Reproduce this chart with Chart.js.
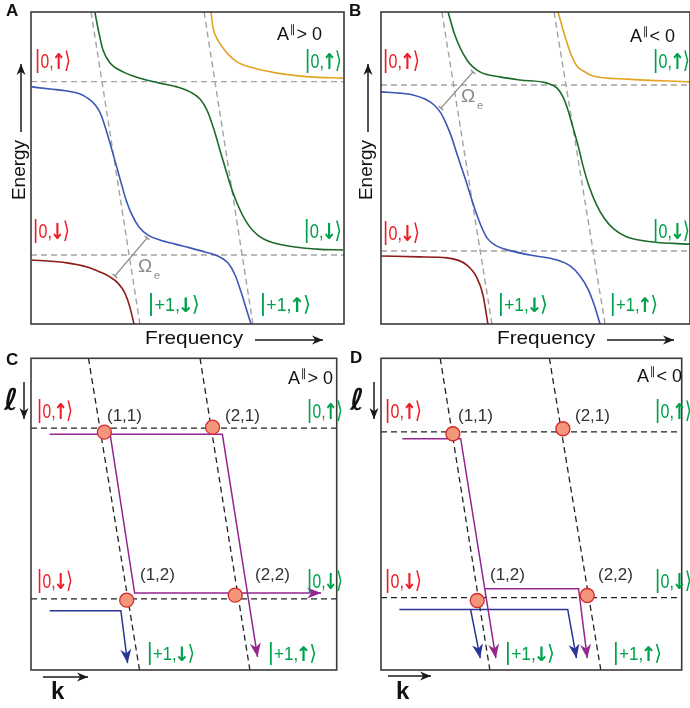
<!DOCTYPE html>
<html>
<head>
<meta charset="utf-8">
<script src="https://cdn.jsdelivr.net/npm/chart.js@4.4.0/dist/chart.umd.min.js"></script>
<style>
    html, body { margin: 0; padding: 0; background: #fff; overflow: hidden; width: 690px; height: 708px; }
    canvas { position: absolute; }
</style>
</head>
<body>
<canvas id="chartA" width="345" height="350" style="left:0;top:0"></canvas>
<canvas id="chartB" width="345" height="350" style="left:345px;top:0"></canvas>
<canvas id="chartC" width="345" height="358" style="left:0;top:350px"></canvas>
<canvas id="chartD" width="345" height="358" style="left:345px;top:350px"></canvas>
<script>
// all values in arbitrary units, 0..100 on both axes of every panel

// panel A : A|| > 0, energy vs frequency
const levelsA = [77.7, 22.1];                 // |0,up>, |0,down>
const photonA = [[19.2, 34.8], [55.3, 70.9]]; // x at top / bottom of |+1,down> and |+1,up>
const redA = [[0.3, 20.5], [11.5, 19.6], [17.9, 18.3], [22.0, 16.7], [25.2, 15.1], [27.8, 13.1], [30.0, 9.9], [31.6, 5.4], [32.9, 0]];
const blueA = [[0.3, 76.0], [6.1, 75.3], [11.5, 74.7], [15.7, 73.7], [18.5, 72.1], [20.8, 69.9], [22.4, 67.0], [24.0, 62.2],
    [25.6, 56.7], [27.2, 51.0], [28.8, 45.2], [30.4, 39.7], [32.3, 34.9], [34.5, 31.1], [37.4, 28.5], [41.2, 26.9],
    [46.0, 25.6], [50.8, 24.4], [55.6, 23.1], [59.7, 21.8], [62.9, 19.6], [65.2, 15.7], [67.1, 10.3], [68.7, 5.1], [70.3, 0]];
const greenA = [[20.4, 100], [21.7, 93.3], [23.0, 87.8], [25.2, 83.7], [29.4, 80.8], [34.8, 78.8], [41.2, 77.2], [46.6, 76.0],
    [50.8, 74.4], [54.0, 72.1], [56.2, 68.6], [58.5, 62.2], [60.4, 55.6], [62.3, 49.2], [63.9, 43.9], [65.8, 38.8],
    [69.0, 32.4], [73.2, 27.9], [80.5, 25.3], [91.4, 24.0], [99.7, 23.7]];
const orangeA = [[57.5, 100], [58.1, 95.2], [59.7, 91.0], [62.6, 86.9], [65.8, 84.0], [70.9, 82.1], [78.6, 80.4], [89.1, 79.2], [99.7, 78.8]];
const omegaA = [[26.8, 15.4], [37.1, 27.6]];

// panel B : A|| < 0
const levelsB = [76.6, 23.4];
const photonB = [[19.7, 35.9], [56.0, 72.5]];
const redB = [[0, 21.8], [12.6, 21.5], [21.4, 21.2], [27.8, 18.9], [31.1, 14.7], [33.0, 9.3], [34.6, 0]];
const blueB = [[0, 74.4], [6.1, 74.0], [10.4, 73.4], [14.2, 72.1], [17.2, 70.2], [19.4, 67.6], [21.0, 64.4], [22.7, 60.3],
    [24.3, 55.4], [25.9, 50.6], [27.5, 45.8], [29.1, 40.7], [30.7, 35.9], [32.4, 31.4], [34.3, 27.6], [36.9, 25.3],
    [40.1, 24.0], [48.2, 22.1], [57.0, 20.5], [61.2, 18.6], [64.4, 15.4], [67.0, 11.2], [68.9, 6.4], [70.9, 0]];
const greenB = [[21.7, 100], [23.9, 92.6], [27.8, 84.6], [32.0, 80.8], [38.5, 79.2], [45.0, 78.2], [53.7, 77.2], [57.0, 75.6],
    [58.9, 72.8], [60.5, 68.6], [62.1, 63.1], [63.8, 57.1], [65.4, 50.6], [67.3, 44.2], [69.6, 38.5], [72.2, 34.0],
    [75.4, 30.4], [79.6, 27.9], [88.0, 26.3], [100, 25.6]];
const orangeB = [[57.3, 100], [59.2, 93.3], [61.2, 87.2], [63.4, 82.7], [66.0, 80.8], [68.6, 79.5], [79.6, 78.5], [100, 77.6]];
const omegaB = [[19.4, 69.2], [29.8, 80.8]];

// panel C : A|| > 0, transition paths
const levelsC = [77.6, 22.8];
const photonC = [[18.8, 35.5], [55.3, 71.6]];
const nodesC = [[24.0, 76.3], [59.4, 77.9], [31.3, 22.4], [66.8, 24.0]];
const purpleC = [[[6.1, 75.6], [62.6, 75.6], [74.1, 4.2]], [[25.9, 75.6], [33.9, 24.7], [94.9, 24.7]]];
const navyC = [[[6.1, 19.0], [29.4, 19.0], [31.6, 2.2]]];

// panel D : A|| < 0, transition paths
const levelsD = [76.4, 23.2];
const photonD = [[19.7, 36.2], [56.0, 73.1]];
const nodesD = [[23.9, 75.8], [60.5, 77.4], [32.0, 22.3], [68.6, 23.9]];
const purpleD = [[[7.1, 74.2], [26.5, 74.2], [38.2, 3.8]], [[34.6, 26.1], [65.7, 26.1], [68.6, 3.8]]];
const navyD = [[[6.1, 19.4], [62.1, 19.4], [65.0, 3.8]], [[29.8, 19.4], [33.0, 3.8]]];

const nodeNames = ['(1,1)', '(2,1)', '(1,2)', '(2,2)'];

const RED = '#8e1b17', BLUE = '#3a58b3', GREEN = '#1b6a2c', ORANGE = '#e3a325';
const PURPLE = '#93278f', NAVY = '#283593';
const GRAY = '#a3a3a3', FRAME = '#3a3a3a';
const KRED = '#ed1c24', KGREEN = '#00a14b';
const SANS = "'Liberation Sans', 'DejaVu Sans', sans-serif";
const DJV = "'DejaVu Sans', sans-serif";

const pts = a => a.map(p => ({ x: p[0], y: p[1] }));

function level(y, color, w) {
    return { data: pts([[0, y], [100, y]]), borderColor: color, borderWidth: w, borderDash: [6, 4], pointRadius: 0, order: 3 };
}
function photon(xs, color, w) {
    return { data: pts([[xs[0], 100], [xs[1], 0]]), borderColor: color, borderWidth: w, borderDash: [6, 4], pointRadius: 0, order: 3 };
}
function curve(a, color) {
    return { data: pts(a), borderColor: color, borderWidth: 1.6, pointRadius: 0, cubicInterpolationMode: 'monotone', order: 1 };
}
function path(a, color) {
    return { data: pts(a), borderColor: color, borderWidth: 1.5, pointRadius: 0, tension: 0, arrowHead: true, order: 1 };
}

// filled arrow head with a small notch, tip at (x2,y2)
function head(ctx, x1, y1, x2, y2, color, len, half) {
    const ang = Math.atan2(y2 - y1, x2 - x1);
    ctx.save();
    ctx.translate(x2, y2);
    ctx.rotate(ang);
    ctx.fillStyle = color;
    ctx.beginPath();
    ctx.moveTo(0, 0);
    ctx.lineTo(-len, -half);
    ctx.lineTo(-len * 0.7, 0);
    ctx.lineTo(-len, half);
    ctx.closePath();
    ctx.fill();
    ctx.restore();
}

function arrow(ctx, a, color) {
    ctx.save();
    ctx.strokeStyle = color;
    ctx.lineWidth = 1.5;
    ctx.beginPath();
    ctx.moveTo(a[0], a[1]);
    ctx.lineTo(a[2], a[3]);
    ctx.stroke();
    ctx.restore();
    head(ctx, a[0], a[1], a[2], a[3], color, 11, 4.5);
}

function drawText(ctx, it, ox, oy) {
    ctx.save();
    ctx.fillStyle = it.color || '#1a1a1a';
    ctx.textBaseline = 'alphabetic';
    if (it.parts) {
        // run of differently styled pieces, optionally squeezed to width w
        let total = 0;
        it.parts.forEach(p => { ctx.font = p.font; total += ctx.measureText(p.t).width + (p.gap || 0); });
        ctx.translate(it.x - ox, it.y - oy);
        if (it.w) ctx.scale(it.w / total, 1);
        let x = 0;
        it.parts.forEach(p => {
            ctx.font = p.font;
            ctx.fillText(p.t, x, p.dy || 0);
            x += ctx.measureText(p.t).width + (p.gap || 0);
        });
        ctx.restore();
        return;
    }
    ctx.font = it.font;
    ctx.translate(it.x - ox, it.y - oy);
    if (it.rot) ctx.rotate(it.rot);
    if (it.align) ctx.textAlign = it.align;
    if (it.w) ctx.scale(it.w / ctx.measureText(it.t).width, 1);
    ctx.fillText(it.t, 0, 0);
    ctx.restore();
}

function decor(p) {
    return {
        id: 'decor' + p.name,
        afterDatasetsDraw(chart) {
            const ctx = chart.ctx;
            chart.data.datasets.forEach((ds, i) => {
                const el = chart.getDatasetMeta(i).data;
                if (ds.arrowHead) {
                    const q = el[el.length - 1], r = el[el.length - 2];
                    head(ctx, r.x, r.y, q.x, q.y, ds.borderColor, 14, 5.5);
                }
                if (ds.caps) {
                    const a = el[0], b = el[1];
                    const ang = Math.atan2(b.y - a.y, b.x - a.x) + Math.PI / 2;
                    const dx = Math.cos(ang) * 3, dy = Math.sin(ang) * 3;
                    ctx.save();
                    ctx.strokeStyle = ds.borderColor;
                    ctx.lineWidth = 1.3;
                    [a, b].forEach(e => {
                        ctx.beginPath();
                        ctx.moveTo(e.x - dx, e.y - dy);
                        ctx.lineTo(e.x + dx, e.y + dy);
                        ctx.stroke();
                    });
                    ctx.restore();
                }
            });
        },
        afterDraw(chart) {
            const ctx = chart.ctx, a = chart.chartArea;
            ctx.save();
            ctx.strokeStyle = FRAME;
            ctx.lineWidth = 1.6;
            ctx.strokeRect(a.left, a.top, a.right - a.left, a.bottom - a.top);
            ctx.restore();
            p.arrows.forEach(ar => arrow(ctx, [ar[0] - p.ox, ar[1] - p.oy, ar[2] - p.ox, ar[3] - p.oy], '#1a1a1a'));
            p.texts.forEach(t => drawText(ctx, t, p.ox, p.oy));
        }
    };
}

function makeChart(id, datasets, pad, p) {
    return new Chart(document.getElementById(id), {
        type: 'line',
        data: { datasets },
        options: {
            responsive: false,
            animation: false,
            events: [],
            layout: { padding: pad },
            plugins: { legend: { display: false }, tooltip: { enabled: false } },
            scales: {
                x: { type: 'linear', min: 0, max: 100, display: false },
                y: { type: 'linear', min: 0, max: 100, display: false }
            }
        },
        plugins: [decor(p)]
    });
}

// ket |n,s> built from pieces so the spin arrow can be a bit heavier
function ket(n, s, x, y, color, big, w) {
    const f = big ? 20 : 18;
    return { x, y, color, w, parts: [
        { t: '|', font: (f + 5) + 'px ' + SANS, gap: 0.5 },
        { t: n + ',', font: f + 'px ' + SANS, gap: -2.5 },
        { t: s, font: 'bold ' + (f + 2) + 'px ' + DJV, dy: 0.5, gap: -2.5 },
        { t: '\u27E9', font: (f + 3) + 'px ' + DJV }
    ] };
}
const UP = '\u2191', DOWN = '\u2193';
function sign(x, y, s) {
    return { x, y, color: '#111', parts: [
        { t: 'A', font: '18px ' + SANS, gap: 1 },
        { t: '\u2225', font: '11px ' + SANS, dy: -7, gap: 1 },
        { t: s + ' 0', font: '18px ' + SANS }
    ] };
}
function omegaLabel(x, y) {
    return [{ t: '\u03A9', x, y, color: '#8a8a8a', font: '19px ' + SANS },
            { t: 'e', x: x + 16, y: y + 7, color: '#8a8a8a', font: '11px ' + SANS }];
}

// ---- A
makeChart('chartA', [
    level(levelsA[0], GRAY, 1.4), level(levelsA[1], GRAY, 1.4),
    photon(photonA[0], GRAY, 1.4), photon(photonA[1], GRAY, 1.4),
    curve(redA, RED), curve(blueA, BLUE), curve(greenA, GREEN), curve(orangeA, ORANGE),
    { data: pts(omegaA), borderColor: '#8a8a8a', borderWidth: 1.3, pointRadius: 0, caps: true, order: 1 }
], { left: 31, top: 12, right: 1, bottom: 26 }, {
    name: 'A', ox: 0, oy: 0,
    arrows: [[21, 132, 21, 64], [255, 340, 323, 340]],
    texts: [
        { t: 'A', x: 6, y: 16, font: 'bold 17px ' + SANS, color: '#111' },
        sign(277, 40, '>'),
        ket('0', UP, 35, 68, KRED, true, 36), ket('0', UP, 305, 68, KGREEN, true, 37),
        ket('0', DOWN, 33, 238, KRED, true, 37), ket('0', DOWN, 304, 238, KGREEN, true, 38),
        ket('+1', DOWN, 148, 311, KGREEN, false, 52), ket('+1', UP, 260, 311, KGREEN, false, 51),
        ...omegaLabel(138, 272),
        { t: 'Energy', x: 25, y: 170, rot: -Math.PI / 2, align: 'center', font: '19px ' + SANS, color: '#111' },
        { t: 'Frequency', x: 145, y: 344, font: '19px ' + SANS, color: '#111', w: 98 }
    ]
});

// ---- B
makeChart('chartB', [
    level(levelsB[0], GRAY, 1.4), level(levelsB[1], GRAY, 1.4),
    photon(photonB[0], GRAY, 1.4), photon(photonB[1], GRAY, 1.4),
    curve(redB, RED), curve(blueB, BLUE), curve(greenB, GREEN), curve(orangeB, ORANGE),
    { data: pts(omegaB), borderColor: '#8a8a8a', borderWidth: 1.3, pointRadius: 0, caps: true, order: 1 }
], { left: 36, top: 12, right: 0, bottom: 26 }, {
    name: 'B', ox: 345, oy: 0,
    arrows: [[368, 132, 368, 64], [607, 340, 674, 340]],
    texts: [
        { t: 'B', x: 349, y: 16, font: 'bold 17px ' + SANS, color: '#111' },
        sign(630, 42, '<'),
        ket('0', UP, 383, 68, KRED, true, 37), ket('0', UP, 653, 68, KGREEN, true, 37),
        ket('0', DOWN, 383, 240, KRED, true, 37), ket('0', DOWN, 653, 238, KGREEN, true, 37),
        ket('+1', DOWN, 498, 311, KGREEN, false, 50), ket('+1', UP, 610, 311, KGREEN, false, 48),
        ...omegaLabel(461, 102),
        { t: 'Energy', x: 372, y: 170, rot: -Math.PI / 2, align: 'center', font: '19px ' + SANS, color: '#111' },
        { t: 'Frequency', x: 497, y: 344, font: '19px ' + SANS, color: '#111', w: 98 }
    ]
});

function nodeSet(a) {
    return { data: pts(a), showLine: false, pointRadius: 7, pointBackgroundColor: '#f4967a',
        pointBorderColor: '#d42a2c', pointBorderWidth: 1.3, order: 0 };
}
const nodeFont = '17px ' + SANS;
const ELL = 'italic bold 30px ' + DJV;

// ---- C
makeChart('chartC', [
    level(levelsC[0], '#222', 1.3), level(levelsC[1], '#222', 1.3),
    photon(photonC[0], '#222', 1.3), photon(photonC[1], '#222', 1.3),
    ...purpleC.map(a => path(a, PURPLE)), ...navyC.map(a => path(a, NAVY)),
    nodeSet(nodesC)
], { left: 31, top: 8, right: 1, bottom: 38 }, {
    name: 'C', ox: 0, oy: 350,
    arrows: [[24, 382, 24, 419], [43, 677, 88, 677]],
    texts: [
        { t: 'C', x: 6, y: 365, font: 'bold 17px ' + SANS, color: '#111' },
        sign(288, 384, '>'),
        ket('0', UP, 37, 418, KRED, true, 36), ket('0', UP, 307, 418, KGREEN, true, 36),
        ket('0', DOWN, 37, 588, KRED, true, 36), ket('0', DOWN, 307, 588, KGREEN, true, 36),
        ket('+1', DOWN, 147, 660, KGREEN, false, 48), ket('+1', UP, 268, 660, KGREEN, false, 49),
        { t: nodeNames[0], x: 107, y: 421, font: nodeFont, color: '#333' },
        { t: nodeNames[1], x: 225, y: 421, font: nodeFont, color: '#333' },
        { t: nodeNames[2], x: 140, y: 580, font: nodeFont, color: '#333' },
        { t: nodeNames[3], x: 255, y: 580, font: nodeFont, color: '#333' },
        { t: '\u2113', x: 4, y: 410, font: ELL, color: '#111' },
        { t: 'k', x: 51, y: 699, font: 'bold 24px ' + SANS, color: '#111' }
    ]
});

// ---- D
makeChart('chartD', [
    level(levelsD[0], '#222', 1.3), level(levelsD[1], '#222', 1.3),
    photon(photonD[0], '#222', 1.3), photon(photonD[1], '#222', 1.3),
    ...purpleD.map(a => path(a, PURPLE)), ...navyD.map(a => path(a, NAVY)),
    nodeSet(nodesD)
], { left: 36, top: 6, right: 0, bottom: 38 }, {
    name: 'D', ox: 345, oy: 350,
    arrows: [[374, 382, 374, 419], [388, 676, 431, 676]],
    texts: [
        { t: 'D', x: 350, y: 363, font: 'bold 17px ' + SANS, color: '#111' },
        sign(637, 382, '<'),
        ket('0', UP, 385, 418, KRED, true, 37), ket('0', UP, 655, 418, KGREEN, true, 37),
        ket('0', DOWN, 385, 588, KRED, true, 37), ket('0', DOWN, 655, 588, KGREEN, true, 37),
        ket('+1', DOWN, 505, 660, KGREEN, false, 50), ket('+1', UP, 613, 660, KGREEN, false, 49),
        { t: nodeNames[0], x: 458, y: 421, font: nodeFont, color: '#333' },
        { t: nodeNames[1], x: 575, y: 421, font: nodeFont, color: '#333' },
        { t: nodeNames[2], x: 490, y: 580, font: nodeFont, color: '#333' },
        { t: nodeNames[3], x: 598, y: 580, font: nodeFont, color: '#333' },
        { t: '\u2113', x: 350, y: 410, font: ELL, color: '#111' },
        { t: 'k', x: 396, y: 699, font: 'bold 24px ' + SANS, color: '#111' }
    ]
});
</script>
</body>
</html>
